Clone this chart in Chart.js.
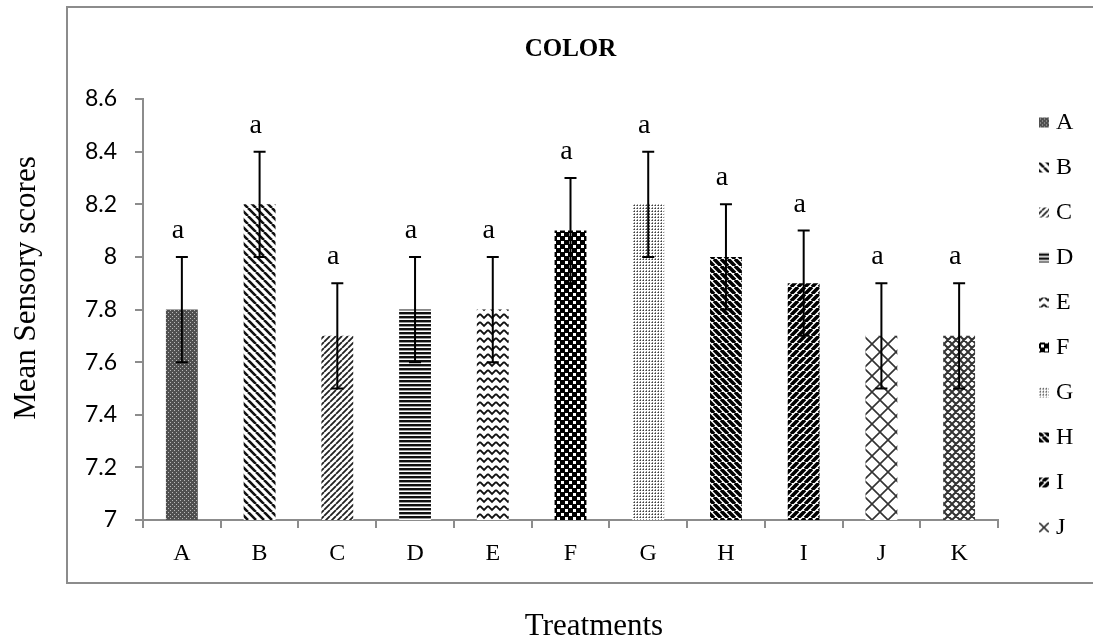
<!DOCTYPE html>
<html lang="en">
<head>
<meta charset="utf-8">
<title>COLOR</title>
<script src="https://cdn.jsdelivr.net/npm/chart.js@4.4.1/dist/chart.umd.min.js"></script>
<style>
  html, body { margin: 0; padding: 0; background: #ffffff; }
  #colorChart { display: block; }
</style>
</head>
<body>
<canvas id="colorChart" width="1093" height="639"></canvas>
<script>
// ===== データ（処理区ごとの平均官能評価スコア） =====
const treatments   = ["A", "B", "C", "D", "E", "F", "G", "H", "I", "J", "K"];
const meanScores   = [7.8, 8.2, 7.7, 7.8, 7.8, 8.1, 8.2, 8.0, 7.9, 7.7, 7.7];
const errorSize    = [0.2, 0.2, 0.2, 0.2, 0.2, 0.2, 0.2, 0.2, 0.2, 0.2, 0.2];
const groupLetters = ["a", "a", "a", "a", "a", "a", "a", "a", "a", "a", "a"];
const yTickLabels  = ["7", "7.2", "7.4", "7.6", "7.8", "8", "8.2", "8.4", "8.6"];

const SERIF = "'Liberation Serif', 'Times New Roman', serif";
const SANS  = "Lato, 'Open Sans', sans-serif";
const AXIS_GRAY = "#8c8c8c";

const canvas = document.getElementById("colorChart");
const ctx = canvas.getContext("2d");

// ── 1. 白黒ハッチング用のタイルを作る ──────────────────────
function makeTile(w, h, draw) {
  const c = document.createElement("canvas");
  c.width = w;
  c.height = h;
  const g = c.getContext("2d");
  g.fillStyle = "#ffffff";
  g.fillRect(0, 0, w, h);
  draw(g, w, h);
  return ctx.createPattern(c, "repeat");
}

// 斜線（"down" = ＼, "up" = ／）
function diagonal(size, lw, dir, color) {
  return makeTile(size, size, function (g, w, h) {
    g.strokeStyle = color;
    g.lineWidth = lw;
    g.beginPath();
    for (let k = -1; k <= 1; k++) {
      if (dir === "down") { g.moveTo(k * w, 0); g.lineTo(k * w + w, h); }
      else                { g.moveTo(k * w, h); g.lineTo(k * w + w, 0); }
    }
    g.stroke();
  });
}

// 格子（ダイヤ柄）
function crossHatch(size, lw, color) {
  return makeTile(size, size, function (g, w, h) {
    g.strokeStyle = color;
    g.lineWidth = lw;
    g.beginPath();
    for (let k = -1; k <= 1; k++) {
      g.moveTo(k * w, 0); g.lineTo(k * w + w, h);
      g.moveTo(k * w, h); g.lineTo(k * w + w, 0);
    }
    g.stroke();
  });
}

const barPatterns = [
  // A: 細かい網点（濃いグレー）
  makeTile(4, 4, function (g) {
    g.fillStyle = "#505050"; g.fillRect(0, 0, 4, 4);
    g.fillStyle = "#b8b8b8"; g.fillRect(0, 0, 1, 1); g.fillRect(2, 2, 1, 1);
  }),
  // B: 右下がり斜線
  diagonal(8, 2.6, "down", "#111111"),
  // C: 右上がり斜線（細め）
  diagonal(6, 1.8, "up", "#222222"),
  // D: 横縞
  makeTile(1, 4, function (g) {
    g.fillStyle = "#111111"; g.fillRect(0, 0, 1, 2);
    g.fillStyle = "#9a9a9a"; g.fillRect(0, 2, 1, 1);
  }),
  // E: 波線
  makeTile(8, 8, function (g) {
    g.strokeStyle = "#111111";
    g.lineWidth = 1.8;
    g.beginPath();
    g.moveTo(0, 2); g.lineTo(4, 6); g.lineTo(8, 2);
    g.stroke();
  }),
  // F: 大きい市松模様
  makeTile(8, 8, function (g) {
    g.fillStyle = "#000000"; g.fillRect(0, 0, 8, 8);
    g.fillStyle = "#ffffff"; g.fillRect(1, 1, 3, 3); g.fillRect(5, 5, 3, 3);
  }),
  // G: 細かいドット（グレー）
  makeTile(3, 3, function (g) {
    g.fillStyle = "#3c3c3c"; g.fillRect(1, 1, 1, 1);
    g.fillStyle = "#8e8e8e"; g.fillRect(0, 1, 1, 1); g.fillRect(1, 0, 1, 1);
  }),
  // H: 太い右下がり斜線
  diagonal(7, 3.6, "down", "#000000"),
  // I: 太い右上がり斜線
  diagonal(7, 3.6, "up", "#000000"),
  // J: 大きいダイヤ格子
  crossHatch(16, 1.6, "#333333"),
  // K: 小さいダイヤ格子
  crossHatch(8, 2, "#333333")
];

// ── 2. エラーバーと有意差記号 ──────────────────────────────
const errorBarPlugin = {
  id: "errorBars",
  afterDatasetsDraw(chart) {
    const c = chart.ctx;
    const yScale = chart.scales.y;
    const meta = chart.getDatasetMeta(0);
    c.save();
    c.strokeStyle = "#000000";
    c.lineWidth = 2;
    c.fillStyle = "#000000";
    c.font = "28px " + SERIF;
    c.textAlign = "center";
    c.textBaseline = "alphabetic";
    meta.data.forEach(function (bar, i) {
      const x = bar.x;
      const top = yScale.getPixelForValue(meanScores[i] + errorSize[i]);
      const bot = yScale.getPixelForValue(meanScores[i] - errorSize[i]);
      c.beginPath();
      c.moveTo(x, top); c.lineTo(x, bot);
      c.moveTo(x - 6, top); c.lineTo(x + 6, top);
      c.moveTo(x - 6, bot); c.lineTo(x + 6, bot);
      c.stroke();
      c.fillText(groupLetters[i], x - 4, top - 19);
    });
    c.restore();
  }
};

// ── 3. 枠線・タイトル・軸タイトル・凡例 ─────────────────────
const framePlugin = {
  id: "frame",
  afterDraw(chart) {
    const c = chart.ctx;
    const area = chart.chartArea;
    c.save();

    // 外枠（右端はキャンバスの外まで伸ばす）
    c.strokeStyle = AXIS_GRAY;
    c.lineWidth = 2;
    c.strokeRect(67, 7, 1100, 576);

    c.fillStyle = "#000000";
    c.textAlign = "center";

    // タイトル
    c.font = "bold 25px " + SERIF;
    c.textBaseline = "middle";
    c.fillText("COLOR", (area.left + area.right) / 2, 50);

    // 横軸タイトル
    c.font = "31px " + SERIF;
    c.textBaseline = "alphabetic";
    c.fillText("Treatments", 594, 635);

    // 縦軸タイトル
    c.save();
    c.translate(35, 288);
    c.rotate(-Math.PI / 2);
    c.fillText("Mean Sensory scores", 0, 0);
    c.restore();

    // 凡例（枠に収まる10行分だけ）
    c.font = "24px " + SERIF;
    c.textAlign = "left";
    c.textBaseline = "middle";
    treatments.slice(0, 10).forEach(function (name, i) {
      const rowY = 122.5 + i * 45;
      // 柄の中心がマーカーの中心に来るように原点をずらす
      c.save();
      c.translate(1044 - 8, rowY - 8);
      c.fillStyle = barPatterns[i];
      c.fillRect(3, 3, 10, 10);
      c.restore();
      c.fillStyle = "#000000";
      c.fillText(name, 1056, rowY);
    });

    c.restore();
  }
};

// ── 4. 棒グラフ本体 ────────────────────────────────────────
new Chart(canvas, {
  type: "bar",
  data: {
    labels: treatments,
    datasets: [{
      data: meanScores,
      backgroundColor: barPatterns,
      borderWidth: 0,
      barPercentage: 0.41,
      categoryPercentage: 1
    }]
  },
  options: {
    responsive: false,
    animation: false,
    devicePixelRatio: 1,
    layout: { padding: { top: 99, right: 95, left: 0, bottom: 0 } },
    plugins: {
      legend: { display: false },
      title: { display: false },
      tooltip: { enabled: false }
    },
    scales: {
      x: {
        z: 1,
        grid: { drawOnChartArea: false, color: AXIS_GRAY, lineWidth: 2, tickLength: 8, offset: true },
        border: { color: AXIS_GRAY, width: 2 },
        ticks: { color: "#000000", font: { family: SERIF, size: 24 }, padding: 11, maxRotation: 0 },
        afterFit: scale => { scale.height = 119; }
      },
      y: {
        z: 1,
        min: Number(yTickLabels[0]),
        max: Number(yTickLabels[yTickLabels.length - 1]),
        grid: { drawOnChartArea: false, color: AXIS_GRAY, lineWidth: 2, tickLength: 8 },
        border: { color: AXIS_GRAY, width: 2 },
        ticks: {
          stepSize: 0.2,
          color: "#000000",
          font: { family: SANS, size: 23 },
          padding: 18,
          callback: (val, i) => yTickLabels[i]
        },
        afterFit: scale => { scale.width = 143; }
      }
    }
  },
  plugins: [errorBarPlugin, framePlugin]
});
</script>
</body>
</html>
